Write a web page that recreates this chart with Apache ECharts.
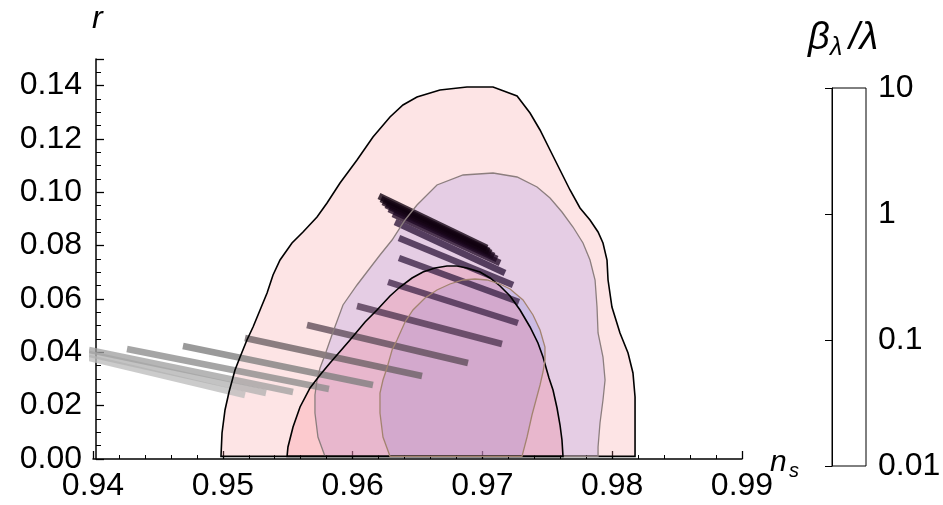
<!DOCTYPE html>
<html><head><meta charset="utf-8">
<script src="https://cdn.jsdelivr.net/npm/echarts@6/dist/echarts.min.js"></script>
<style>html,body{margin:0;padding:0;background:#fff}#c{width:943px;height:505px}</style>
</head><body><div id="c"></div>
<script>
// ---------- data (n_s, r) ----------
const xTickLabels = [0.94, 0.95, 0.96, 0.97, 0.98, 0.99];
const yTickLabels = [0.00, 0.02, 0.04, 0.06, 0.08, 0.10, 0.12, 0.14];
const cbarTickLabels = [0.01, 0.1, 1, 10];

// outer (95%) contour, black outline
const outerNs = [0.94986,0.94994,0.95017,0.95048,0.95094,0.95133,0.95186,0.95233,0.95287,0.95341,0.95387,0.95441,0.95533,0.95618,0.95726,0.95803,0.95903,0.96034,0.96157,0.96288,0.96388,0.96496,0.96673,0.96881,0.97082,0.97267,0.97367,0.97444,0.97521,0.97598,0.97675,0.97752,0.97829,0.97891,0.97929,0.97960,0.97968,0.97998,0.98060,0.98122,0.98160,0.98176,0.98176,0.98176];
const outerR  = [0.0010,0.00975,0.018375,0.025125,0.033375,0.03825,0.044625,0.0495,0.055875,0.06225,0.069,0.074625,0.081,0.085125,0.09075,0.096,0.1035,0.112125,0.12075,0.12825,0.13275,0.13575,0.138375,0.1395,0.1395,0.136125,0.12975,0.123375,0.115875,0.108375,0.100875,0.094125,0.089625,0.085125,0.081,0.074625,0.067125,0.057,0.04725,0.03975,0.03225,0.02325,0.010875,0.0010];

// second contour, grey outline (lavender)
const midNs = [0.95787,0.95733,0.95710,0.95710,0.95726,0.95749,0.95787,0.95849,0.95926,0.96034,0.96134,0.96211,0.96304,0.96404,0.96496,0.96650,0.96851,0.97082,0.97267,0.97421,0.97521,0.97613,0.97698,0.97775,0.97829,0.97868,0.97883,0.97891,0.97929,0.97945,0.97929,0.97906,0.97891,0.97891];
const midR  = [0.0010,0.00825,0.01725,0.024,0.029625,0.034125,0.039,0.047625,0.05775,0.06525,0.071625,0.0765,0.082125,0.089625,0.09525,0.10275,0.1065,0.10725,0.10575,0.102,0.097875,0.092625,0.087,0.081,0.074625,0.067125,0.057,0.04725,0.03825,0.029625,0.022125,0.0135,0.0045,0.0010];

// small contour, black outline
const smallNs = [0.95495,0.95502,0.95541,0.95595,0.95672,0.95749,0.95826,0.95980,0.96096,0.96188,0.96288,0.96365,0.96458,0.96542,0.96635,0.96727,0.96804,0.96881,0.96982,0.97059,0.97136,0.97213,0.97290,0.97367,0.97428,0.97467,0.97513,0.97544,0.97575,0.97598,0.97613,0.97621];
const smallR  = [0.0010,0.0045,0.012,0.0195,0.026625,0.0315,0.036,0.044625,0.051375,0.055875,0.061125,0.0645,0.067875,0.070125,0.071625,0.072375,0.072375,0.071625,0.070125,0.067875,0.064875,0.061125,0.055875,0.0495,0.0435,0.03825,0.030375,0.025875,0.019125,0.01275,0.007125,0.0010];

// innermost contour, brown outline
const innerNs = [0.96288,0.96234,0.96211,0.96211,0.96234,0.96265,0.96304,0.96342,0.96404,0.96465,0.96558,0.96650,0.96750,0.96851,0.96943,0.97035,0.97136,0.97213,0.97313,0.97390,0.97444,0.97482,0.97482,0.97467,0.97444,0.97413,0.97382,0.97344,0.97305];
const innerR  = [0.0010,0.00825,0.01725,0.02475,0.029625,0.034125,0.040875,0.044625,0.051375,0.055875,0.060375,0.063375,0.065625,0.067125,0.0675,0.067125,0.065625,0.06375,0.059625,0.054,0.048375,0.042,0.037125,0.032625,0.02775,0.022125,0.0165,0.00825,0.0010];

// prediction segments (one per beta_lambda/lambda value), start -> end
const segStartNs = [0.93969,0.93969,0.93969,0.94262,0.94693,0.95171,0.95649,0.96034,0.96273,0.96357,0.96357,0.96327,0.96311,0.96280,0.96257,0.96234,0.96219,0.96203];
const segStartR  = [0.037875,0.039375,0.040875,0.04125,0.042375,0.045375,0.05025,0.057375,0.066375,0.075375,0.082875,0.088875,0.091875,0.09375,0.09525,0.096375,0.0975,0.098625];
const segEndNs   = [0.95171,0.95333,0.95541,0.95818,0.96157,0.96535,0.96889,0.97151,0.97274,0.97282,0.97236,0.97174,0.97136,0.97113,0.97089,0.97066,0.97051,0.97035];
const segEndR    = [0.024,0.02475,0.025125,0.02625,0.02775,0.031125,0.036,0.043125,0.051,0.058875,0.06525,0.06975,0.0735,0.075,0.076125,0.07725,0.078,0.079125];

// ---------- styles ----------
const segColors = ['#bcbcbc','#b2b2b2','#a2a2a2','#8c8c8c','#7e7e7e','#6a6064','#5e4c58','#4e3550','#42284a','#3a2245','#341c40','#2c1538','#220c28','#1e0822','#1a061c','#160416','#120212','#10000e'];
const FONT = '"Liberation Sans", Arial, sans-serif';

function poly(nsArr, rArr, fill, stroke, lw, z) {
  const pts = nsArr.map((x, i) => [x, rArr[i]]);
  return {
    type: 'custom', coordinateSystem: 'cartesian2d', xAxisIndex: 0, yAxisIndex: 0,
    z: z, silent: true, clip: true, data: pts, encode: { x: 0, y: 1 },
    renderItem: function (params, api) {
      if (params.dataIndex !== 0) return null;
      return { type: 'polygon', shape: { points: pts.map(p => api.coord(p)) },
        style: { fill: fill, stroke: stroke, lineWidth: lw } };
    }
  };
}

const segData = segStartNs.map((x, i) => ({
  coords: [[x, segStartR[i]], [segEndNs[i], segEndR[i]]],
  lineStyle: { color: segColors[i] }
}));

function txt(s, left, top, size) {
  return { type: 'text', left: left, top: top, silent: true,
    style: { text: s, font: 'italic ' + size + 'px ' + FONT, fill: '#000' } };
}

const chart = echarts.init(document.getElementById('c'), null, { renderer: 'canvas' });
chart.setOption({
  animation: false,
  backgroundColor: '#fff',
  grid: [
    { left: 93, right: 201, top: 59, bottom: 46, containLabel: false, outerBoundsMode: 'none' },
    { left: 832, width: 34, top: 88, height: 378, show: true, borderColor: '#000', borderWidth: 1,
      backgroundColor: '#fff', containLabel: false, outerBoundsMode: 'none' }
  ],
  xAxis: [
    { gridIndex: 0, type: 'value', min: xTickLabels[0], max: xTickLabels[xTickLabels.length - 1], interval: 0.01,
      axisLine: { show: true, onZero: false, lineStyle: { color: '#000', width: 1.5 } },
      axisTick: { show: true, inside: true, length: 8, lineStyle: { color: '#000', width: 1.3 } },
      minorTick: { show: true, splitNumber: 5, length: 4, lineStyle: { color: '#000', width: 1 } },
      splitLine: { show: false }, minorSplitLine: { show: false },
      axisLabel: { fontSize: 32, color: '#000', margin: 11, fontFamily: FONT, formatter: v => v.toFixed(2) } },
    { gridIndex: 1, type: 'value', show: false, min: 0, max: 1 }
  ],
  yAxis: [
    { gridIndex: 0, type: 'value', min: 0, max: 0.15, interval: 0.02, offset: -3,
      axisLine: { show: true, onZero: false, lineStyle: { color: '#000', width: 1.5 } },
      axisTick: { show: true, inside: true, length: 8, lineStyle: { color: '#000', width: 1.3 } },
      minorTick: { show: true, splitNumber: 4, length: 5, lineStyle: { color: '#000', width: 1 } },
      splitLine: { show: false },
      axisLabel: { fontSize: 32, color: '#000', margin: 14, fontFamily: FONT, showMaxLabel: false,
        formatter: v => v.toFixed(2) } },
    { gridIndex: 1, type: 'log', logBase: 10, min: cbarTickLabels[0], max: cbarTickLabels[cbarTickLabels.length - 1],
      position: 'right',
      axisLine: { show: true, lineStyle: { color: '#000', width: 1 } },
      axisTick: { show: true, inside: true, length: 7, lineStyle: { color: '#000', width: 1 } },
      splitLine: { show: false },
      axisLabel: { fontSize: 32, color: '#000', margin: 12, fontFamily: FONT,
        formatter: v => String(Number(Number(v).toPrecision(2))) } }
  ],
  series: [
    poly(outerNs, outerR, 'rgba(247,147,151,0.25)', 'none', 0, 1),
    poly(midNs, midR, 'rgba(176,151,226,0.30)', 'none', 0, 2),
    poly(innerNs, innerR, 'rgba(147,148,228,0.30)', 'none', 0, 3),
    poly(smallNs, smallR, 'rgba(247,79,97,0.174)', 'none', 0, 4),
    { type: 'lines', coordinateSystem: 'cartesian2d', xAxisIndex: 0, yAxisIndex: 0, z: 5, silent: true,
      clip: true, polyline: false, data: segData,
      lineStyle: { width: 6.5, opacity: 0.78, cap: 'butt', curveness: 0 } },
    poly(outerNs, outerR, 'none', '#000', 1.6, 6),
    poly(midNs, midR, 'none', '#8c7e7e', 1.3, 6),
    poly(smallNs, smallR, 'none', '#000', 1.6, 6),
    poly(innerNs, innerR, 'none', '#a3836f', 1.3, 6)
  ],
  graphic: [
    txt('r', 92, 3, 32),
    txt('n', 770, 448, 30),
    txt('s', 789, 461, 20),
    txt('β', 808, 19, 38),
    txt('λ', 830, 36, 25),
    txt('/λ', 849, 19, 38)
  ]
});
</script></body></html>
